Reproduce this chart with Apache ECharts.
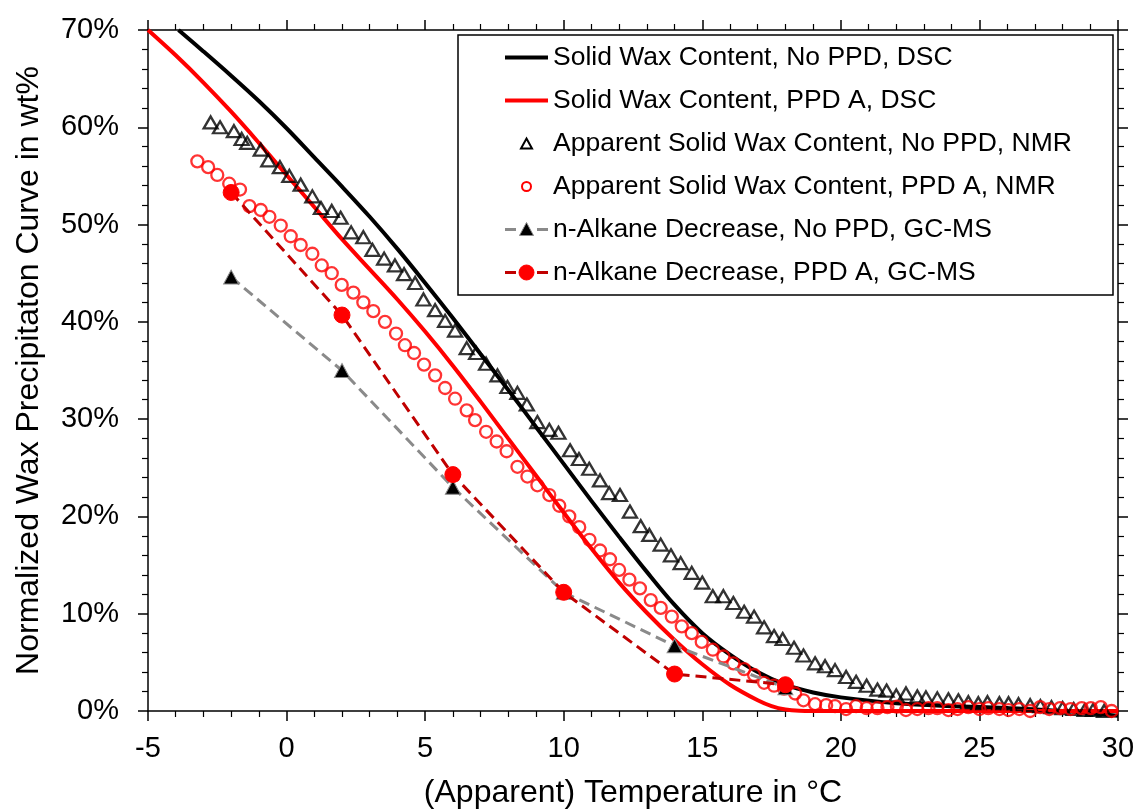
<!DOCTYPE html>
<html>
<head>
<meta charset="utf-8">
<title>Normalized Wax Precipitation Curves</title>
<script src="https://cdn.jsdelivr.net/npm/echarts@6/dist/echarts.min.js"></script>
<style>
  html, body { margin: 0; padding: 0; background: #ffffff; }
  #chart { width: 1140px; height: 809px; }
</style>
</head>
<body>
<div id="chart"></div>
<script>
// Series names (legend order)
const seriesNames = [
  'Solid Wax Content, No PPD, DSC',
  'Solid Wax Content, PPD A, DSC',
  'Apparent Solid Wax Content, No PPD, NMR',
  'Apparent Solid Wax Content, PPD A, NMR',
  'n-Alkane Decrease, No PPD, GC-MS',
  'n-Alkane Decrease, PPD A, GC-MS'
];

// DSC solid wax content, no PPD: [temperature °C, wt%]
const dscNoPpd = [
  [-3.9, 70], [-3, 67.8], [-2, 65.3], [-1, 62.7], [0, 59.9], [1, 56.9], [2, 53.9],
  [3, 50.8], [4, 47.5], [5, 44.0], [6, 40.4], [7, 36.7], [8, 33.0], [9, 29.2],
  [10, 25.4], [11, 21.6], [12, 17.9], [13, 14.3], [14, 10.9], [15, 8.0], [16, 5.8],
  [17, 4.0], [18, 2.7], [19, 1.9], [20, 1.4], [22, 0.8], [24, 0.5], [26, 0.3],
  [28, 0.0], [30, -0.5]
];

// DSC solid wax content, PPD A
const dscPpdA = [
  [-5, 70], [-4, 67.4], [-3, 64.6], [-2, 61.6], [-1, 58.4], [0, 55.1], [1, 51.8],
  [2, 48.5], [3, 45.4], [4, 42.3], [5, 39.0], [6, 35.5], [7, 31.8], [8, 28.0],
  [9, 24.2], [10, 20.4], [11, 16.7], [12, 13.2], [13, 10.1], [14, 7.3], [15, 4.8],
  [16, 2.7], [17, 1.1], [17.5, 0.5], [18, 0.15], [18.5, 0.02], [19, 0], [20, 0], [25, 0], [30, 0]
];

// NMR apparent solid wax content, no PPD
const nmrNoPpd = [
  [-2.74, 60.5], [-2.40, 60.0], [-1.90, 59.6], [-1.62, 58.8], [-1.42, 58.4], [-0.93, 57.7],
  [-0.66, 56.6], [-0.24, 55.9], [0.10, 55.0], [0.51, 54.1], [0.93, 52.9], [1.24, 51.7],
  [1.63, 51.4], [1.95, 50.7], [2.33, 49.2], [2.77, 48.7], [3.10, 47.4], [3.52, 46.5],
  [3.91, 45.8], [4.24, 44.9], [4.64, 44.0], [4.94, 42.3], [5.36, 41.2], [5.72, 40.1],
  [6.08, 39.1], [6.50, 37.3], [6.84, 36.8], [7.20, 35.7], [7.61, 34.5], [7.97, 33.3],
  [8.33, 32.7], [8.67, 31.5], [9.05, 29.7], [9.48, 28.9], [9.81, 28.6], [10.23, 26.8],
  [10.55, 25.9], [10.92, 24.9], [11.31, 23.7], [11.64, 22.4], [12.03, 22.2], [12.39, 20.5],
  [12.78, 19.0], [13.09, 18.1], [13.50, 17.1], [13.87, 16.0], [14.22, 15.2], [14.62, 14.2],
  [15.00, 13.2], [15.38, 11.8], [15.76, 11.8], [16.12, 11.1], [16.51, 10.2], [16.87, 9.7],
  [17.23, 8.6], [17.59, 7.7], [17.90, 7.4], [18.31, 6.5], [18.65, 5.7], [19.07, 4.9],
  [19.43, 4.6], [19.79, 4.2], [20.19, 3.5], [20.55, 3.0], [20.93, 2.6], [21.32, 2.2],
  [21.65, 2.1], [22.00, 1.6], [22.35, 1.8], [22.76, 1.5], [23.07, 1.4], [23.48, 1.3],
  [23.88, 1.2], [24.24, 1.1], [24.60, 0.9], [24.96, 0.8], [25.29, 0.9], [25.72, 0.8],
  [26.05, 0.8], [26.41, 0.7], [26.83, 0.6], [27.2, 0.5], [27.6, 0.4], [28.0, 0.3],
  [28.4, 0.2], [28.8, 0.1], [29.1, 0.1], [29.5, 0.0]
];

// NMR apparent solid wax content, PPD A
const nmrPpdA = [
  [-3.22, 56.5], [-2.83, 55.9], [-2.50, 55.1], [-2.07, 54.2], [-1.68, 53.6], [-1.34, 51.9],
  [-0.93, 51.5], [-0.62, 50.8], [-0.21, 49.9], [0.15, 48.8], [0.51, 47.9], [0.93, 47.0],
  [1.27, 45.8], [1.63, 45.0], [1.99, 43.8], [2.41, 43.0], [2.77, 42.0], [3.13, 41.1],
  [3.55, 40.0], [3.95, 38.8], [4.27, 37.6], [4.60, 36.8], [4.96, 35.6], [5.36, 34.5],
  [5.72, 33.2], [6.08, 32.1], [6.50, 30.9], [6.80, 29.9], [7.20, 28.7], [7.58, 27.7],
  [7.94, 26.7], [8.33, 25.1], [8.69, 24.1], [9.05, 23.2], [9.48, 22.2], [9.84, 21.1],
  [10.20, 20.0], [10.56, 18.9], [10.93, 17.6], [11.31, 16.5], [11.67, 15.6], [12.00, 14.5],
  [12.37, 13.5], [12.75, 12.6], [13.14, 11.4], [13.50, 10.6], [13.90, 9.7], [14.26, 8.7],
  [14.62, 8.0], [14.98, 7.1], [15.38, 6.3], [15.76, 5.6], [16.12, 4.9], [16.51, 4.3],
  [16.87, 3.7], [17.23, 2.9], [17.59, 2.6], [17.95, 2.3], [18.35, 1.8], [18.65, 1.1],
  [19.07, 0.7], [19.47, 0.6], [19.79, 0.5], [20.19, 0.2], [20.55, 0.5], [20.93, 0.3],
  [21.32, 0.3], [21.68, 0.4], [22.02, 0.45], [22.35, 0.1], [22.76, 0.2], [23.16, 0.3],
  [23.48, 0.3], [23.88, 0.1], [24.21, 0.2], [24.60, 0.4], [25.00, 0.2], [25.32, 0.3],
  [25.72, 0.2], [26.05, 0.1], [26.44, 0.2], [26.83, 0.0], [27.19, 0.4], [27.52, 0.2],
  [27.91, 0.3], [28.29, 0.2], [28.69, 0.3], [29.02, 0.3], [29.38, 0.4], [29.77, 0.0]
];

// GC-MS n-alkane decrease
const gcNoPpd = [[-2, 44.6], [2, 35.0], [6, 23.0], [10, 12.2], [14, 6.7], [18, 2.4]];
const gcPpdA = [[-2, 53.3], [2, 40.7], [6, 24.3], [10, 12.2], [14, 3.8], [18, 2.7]];

// Axis ranges and titles
const xRange = { min: -5, max: 30, step: 5 };
const yRange = { min: 0, max: 70, step: 10 };
const xTitle = '(Apparent) Temperature in °C';
const yTitle = 'Normalized Wax Precipitaton Curve in wt%';

const FONT = "'Liberation Sans', Arial, sans-serif";
const BLACK = '#000000';
const RED = '#ff0000';
const GRAY = '#8a8a8a';
const DARKRED = '#c00000';

const chart = echarts.init(document.getElementById('chart'), null, { renderer: 'canvas' });

function axisCommon(extra) {
  return Object.assign({
    type: 'value',
    axisLine: { show: true, onZero: false, lineStyle: { color: BLACK, width: 1.5 } },
    axisTick: { show: true, inside: false, length: 10, lineStyle: { color: BLACK, width: 1.5 } },
    minorTick: { show: true, splitNumber: 5, length: 6, lineStyle: { color: BLACK, width: 1.2 } },
    splitLine: { show: false },
    minorSplitLine: { show: false }
  }, extra);
}

// Legend drawn as a framed box in the upper right of the plot
const legendBox = { x: 458, y: 35, w: 655, h: 260 };
const legendRow0 = 57.5, legendRowStep = 43, iconL = 505, iconR = 548, textX = 553;
const legendGraphics = [{
  type: 'rect', z: 100,
  shape: { x: legendBox.x, y: legendBox.y, width: legendBox.w, height: legendBox.h },
  style: { fill: '#ffffff', stroke: BLACK, lineWidth: 1.5 }
}];
seriesNames.forEach(function (name, i) {
  const cy = legendRow0 + i * legendRowStep;
  const cx = (iconL + iconR) / 2;
  if (i === 0 || i === 1) {
    legendGraphics.push({ type: 'line', z: 101, shape: { x1: iconL, y1: cy, x2: iconR, y2: cy },
      style: { stroke: i === 0 ? BLACK : RED, lineWidth: 4 } });
  } else if (i === 2) {
    legendGraphics.push({ type: 'polygon', z: 101,
      shape: { points: [[cx, cy - 5], [cx + 5.5, cy + 5], [cx - 5.5, cy + 5]] },
      style: { fill: 'none', stroke: BLACK, lineWidth: 2 } });
  } else if (i === 3) {
    legendGraphics.push({ type: 'circle', z: 101, shape: { cx: cx, cy: cy, r: 4.5 },
      style: { fill: 'none', stroke: RED, lineWidth: 2 } });
  } else {
    const col = i === 4 ? GRAY : DARKRED;
    legendGraphics.push({ type: 'line', z: 101, shape: { x1: iconL, y1: cy, x2: iconL + 11, y2: cy },
      style: { stroke: col, lineWidth: 3 } });
    legendGraphics.push({ type: 'line', z: 101, shape: { x1: iconR - 11, y1: cy, x2: iconR, y2: cy },
      style: { stroke: col, lineWidth: 3 } });
    if (i === 4) {
      legendGraphics.push({ type: 'polygon', z: 102,
        shape: { points: [[cx, cy - 7], [cx + 7, cy + 6], [cx - 7, cy + 6]] },
        style: { fill: BLACK, stroke: GRAY, lineWidth: 1 } });
    } else {
      legendGraphics.push({ type: 'circle', z: 102, shape: { cx: cx, cy: cy, r: 7.5 },
        style: { fill: RED, stroke: RED, lineWidth: 1 } });
    }
  }
  legendGraphics.push({ type: 'text', z: 101, x: textX, y: cy,
    style: { text: name, fill: BLACK, font: '26.5px ' + FONT, textVerticalAlign: 'middle', textAlign: 'left' } });
});

const option = {
  backgroundColor: '#ffffff',
  animation: false,
  textStyle: { fontFamily: FONT },
  grid: { left: 148, top: 30, right: 22, bottom: 98, containLabel: false, outerBoundsMode: 'none' },
  xAxis: [
    axisCommon({
      position: 'bottom', min: xRange.min, max: xRange.max, interval: xRange.step,
      axisLabel: { show: true, color: BLACK, fontSize: 29, fontFamily: FONT, margin: 23 },
      name: xTitle, nameLocation: 'middle', nameGap: 66,
      nameTextStyle: { color: BLACK, fontSize: 32, fontFamily: FONT }
    }),
    axisCommon({
      position: 'top', min: xRange.min, max: xRange.max, interval: xRange.step,
      axisLabel: { show: false }
    })
  ],
  yAxis: [
    axisCommon({
      position: 'left', min: yRange.min, max: yRange.max, interval: yRange.step,
      axisLabel: { show: true, color: BLACK, fontSize: 29, fontFamily: FONT, margin: 29,
        formatter: '{value}%' },
      name: yTitle, nameLocation: 'middle', nameGap: 103,
      nameTextStyle: { color: BLACK, fontSize: 32, fontFamily: FONT }
    }),
    axisCommon({
      position: 'right', min: yRange.min, max: yRange.max, interval: yRange.step,
      axisLabel: { show: false }
    })
  ],
  graphic: legendGraphics,
  series: [
    {
      name: seriesNames[0], type: 'line', data: dscNoPpd, smooth: 0.35, showSymbol: false,
      symbol: 'none', clip: false, z: 2,
      lineStyle: { color: BLACK, width: 4 }
    },
    {
      name: seriesNames[1], type: 'line', data: dscPpdA, smooth: 0.35, showSymbol: false,
      symbol: 'none', clip: false, z: 2,
      lineStyle: { color: RED, width: 4 }
    },
    {
      name: seriesNames[2], type: 'scatter', data: nmrNoPpd, symbol: 'triangle',
      symbolSize: [14, 12], z: 3,
      itemStyle: { color: 'rgba(255,255,255,0)', borderColor: BLACK, borderWidth: 2.3 }
    },
    {
      name: seriesNames[3], type: 'scatter', data: nmrPpdA, symbol: 'circle',
      symbolSize: 12, z: 3,
      itemStyle: { color: 'rgba(255,255,255,0)', borderColor: RED, borderWidth: 2.3 }
    },
    {
      name: seriesNames[4], type: 'line', data: gcNoPpd, symbol: 'triangle', symbolSize: [15, 14],
      showSymbol: true, z: 4,
      lineStyle: { color: GRAY, width: 3, type: [11, 6] },
      itemStyle: { color: BLACK, borderColor: GRAY, borderWidth: 1 }
    },
    {
      name: seriesNames[5], type: 'line', data: gcPpdA, symbol: 'circle', symbolSize: 16,
      showSymbol: true, z: 5,
      lineStyle: { color: DARKRED, width: 3, type: [11, 6] },
      itemStyle: { color: RED, borderColor: RED, borderWidth: 1 }
    }
  ]
};

chart.setOption(option);
</script>
</body>
</html>
